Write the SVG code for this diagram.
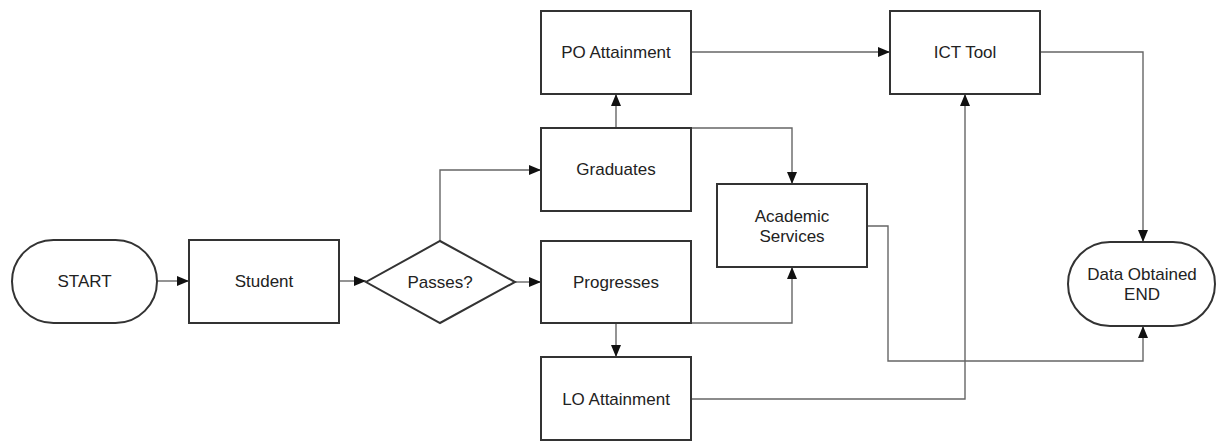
<svg xmlns="http://www.w3.org/2000/svg" width="1217" height="441" viewBox="0 0 1217 441">
<style>
.n{fill:#fff;stroke:#333;stroke-width:2}
.t{font-family:"Liberation Sans",Arial,sans-serif;font-size:17px;fill:#222;text-anchor:middle;dominant-baseline:central}
.c{fill:none;stroke:#666;stroke-width:1.4;marker-end:url(#ah)}
</style>
<defs>
<marker id="ah" markerUnits="userSpaceOnUse" markerWidth="12" markerHeight="10" refX="12" refY="5" orient="auto">
<path d="M0,0 L12,5 L0,10 Z" fill="#111"/>
</marker>
</defs>
<rect width="1217" height="441" fill="#fff"/>
<g id="connectors">
<path class="c" d="M157,281 H189"/>
<path class="c" d="M339,281 H366"/>
<path class="c" d="M515,282 H541"/>
<path class="c" d="M440,241 V170 H541"/>
<path class="c" d="M616,128 V94"/>
<path class="c" d="M691,52 H890"/>
<path class="c" d="M691,128 H792 V184"/>
<path class="c" d="M691,323 H792 V267"/>
<path class="c" d="M616,323 V357"/>
<path class="c" d="M691,399 H965 V94"/>
<path class="c" d="M1040,52 H1143 V242"/>
<path class="c" d="M867,226 H888 V361 H1143 V326"/>
</g>
<g id="start"><rect class="n" x="12" y="240" width="145" height="83" rx="41.5"/><text class="t" x="84.5" y="281.5">START</text></g>
<g id="student"><rect class="n" x="189" y="240" width="150" height="83"/><text class="t" x="264" y="281.5">Student</text></g>
<g id="passes"><polygon class="n" points="440,241 515,282 440,323 366,282"/><text class="t" x="440" y="282">Passes?</text></g>
<g id="graduates"><rect class="n" x="541" y="128" width="150" height="83"/><text class="t" x="616" y="169.5">Graduates</text></g>
<g id="progresses"><rect class="n" x="541" y="241" width="150" height="82"/><text class="t" x="616" y="282">Progresses</text></g>
<g id="po"><rect class="n" x="541" y="11" width="150" height="83"/><text class="t" x="616" y="52.5">PO Attainment</text></g>
<g id="ict"><rect class="n" x="890" y="11" width="150" height="83"/><text class="t" x="965" y="52.5">ICT Tool</text></g>
<g id="lo"><rect class="n" x="541" y="357" width="150" height="83"/><text class="t" x="616" y="399">LO Attainment</text></g>
<g id="academic"><rect class="n" x="717" y="184" width="150" height="83"/><text class="t" x="792" y="216">Academic</text><text class="t" x="792" y="236">Services</text></g>
<g id="end"><rect class="n" x="1068" y="242" width="147" height="84" rx="42"/><text class="t" x="1142" y="274">Data Obtained</text><text class="t" x="1142" y="294">END</text></g>
</svg>
